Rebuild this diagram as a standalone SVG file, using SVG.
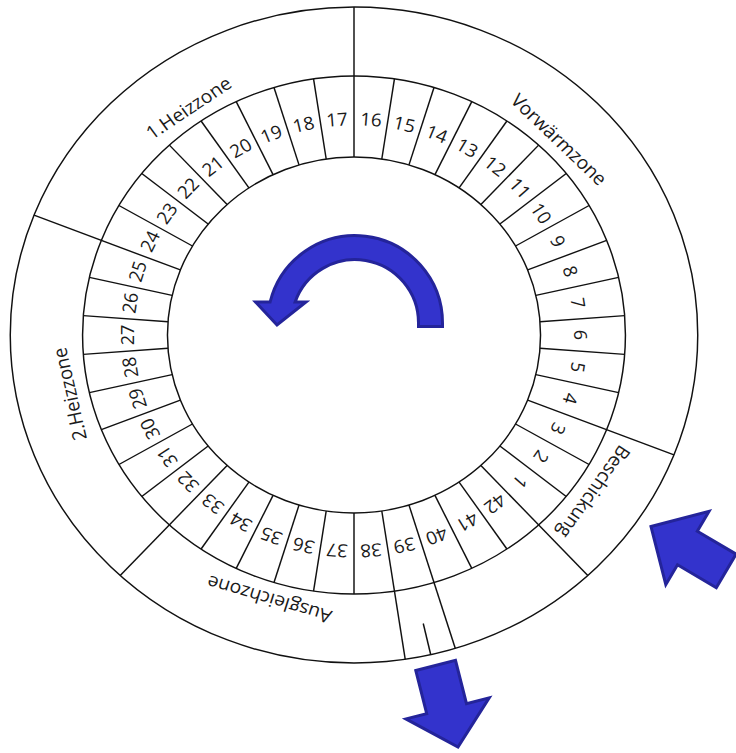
<svg xmlns="http://www.w3.org/2000/svg" xmlns:xlink="http://www.w3.org/1999/xlink" width="736" height="753" viewBox="0 0 736 753">
<style>
.ln{stroke:#111;stroke-width:1.4;fill:none}
.num{font-family:"Open Sans","Liberation Sans",sans-serif;font-size:18px;fill:#1a1a1a;text-anchor:middle}
.zl{font-family:"Open Sans","Liberation Sans",sans-serif;font-size:18.5px;fill:#1a1a1a;text-anchor:middle}
.arr{fill:#3333cc;stroke:#24249a;stroke-width:3;stroke-linejoin:miter;stroke-miterlimit:6}
</style>
<defs>
<line id="sp" x1="0" y1="-178" x2="0" y2="-259"/>
<line id="lp" x1="0" y1="-178" x2="0" y2="-328"/>
</defs>
<rect width="736" height="753" fill="#fff"/>
<g transform="translate(354,335) scale(1.048,1)">
<g id="furnace" class="ln">
<circle r="328"/>
<circle r="259"/>
<circle r="178"/>
</g>
<g id="cell-dividers" class="ln">
<use xlink:href="#lp" transform="rotate(0)"/>
<use xlink:href="#sp" transform="rotate(8.5714)"/>
<use xlink:href="#sp" transform="rotate(17.1429)"/>
<use xlink:href="#sp" transform="rotate(25.7143)"/>
<use xlink:href="#sp" transform="rotate(34.2857)"/>
<use xlink:href="#sp" transform="rotate(42.8571)"/>
<use xlink:href="#sp" transform="rotate(51.4286)"/>
<use xlink:href="#sp" transform="rotate(60)"/>
<use xlink:href="#sp" transform="rotate(68.5714)"/>
<use xlink:href="#sp" transform="rotate(77.1429)"/>
<use xlink:href="#sp" transform="rotate(85.7143)"/>
<use xlink:href="#sp" transform="rotate(94.2857)"/>
<use xlink:href="#sp" transform="rotate(102.8571)"/>
<use xlink:href="#lp" transform="rotate(111.4286)"/>
<use xlink:href="#sp" transform="rotate(120)"/>
<use xlink:href="#sp" transform="rotate(128.5714)"/>
<use xlink:href="#lp" transform="rotate(137.1429)"/>
<use xlink:href="#sp" transform="rotate(145.7143)"/>
<use xlink:href="#sp" transform="rotate(154.2857)"/>
<use xlink:href="#lp" transform="rotate(162.8571)"/>
<use xlink:href="#lp" transform="rotate(171.4286)"/>
<use xlink:href="#sp" transform="rotate(180)"/>
<use xlink:href="#sp" transform="rotate(188.5714)"/>
<use xlink:href="#sp" transform="rotate(197.1429)"/>
<use xlink:href="#sp" transform="rotate(205.7143)"/>
<use xlink:href="#sp" transform="rotate(214.2857)"/>
<use xlink:href="#lp" transform="rotate(222.8571)"/>
<use xlink:href="#sp" transform="rotate(231.4286)"/>
<use xlink:href="#sp" transform="rotate(240)"/>
<use xlink:href="#sp" transform="rotate(248.5714)"/>
<use xlink:href="#sp" transform="rotate(257.1429)"/>
<use xlink:href="#sp" transform="rotate(265.7143)"/>
<use xlink:href="#sp" transform="rotate(274.2857)"/>
<use xlink:href="#sp" transform="rotate(282.8571)"/>
<use xlink:href="#lp" transform="rotate(291.4286)"/>
<use xlink:href="#sp" transform="rotate(300)"/>
<use xlink:href="#sp" transform="rotate(308.5714)"/>
<use xlink:href="#sp" transform="rotate(317.1429)"/>
<use xlink:href="#sp" transform="rotate(325.7143)"/>
<use xlink:href="#sp" transform="rotate(334.2857)"/>
<use xlink:href="#sp" transform="rotate(342.8571)"/>
<use xlink:href="#sp" transform="rotate(351.4286)"/>
<line x1="0" y1="-296" x2="0" y2="-328" transform="rotate(167.1)"/>
</g>
<g id="cell-numbers" class="num">
<text id="c1" transform="rotate(132.857) translate(0,-216)" y="6.4">1</text>
<text id="c2" transform="rotate(124.286) translate(0,-216)" y="6.4">2</text>
<text id="c3" transform="rotate(115.714) translate(0,-216)" y="6.4">3</text>
<text id="c4" transform="rotate(107.143) translate(0,-216)" y="6.4">4</text>
<text id="c5" transform="rotate(98.571) translate(0,-216)" y="6.4">5</text>
<text id="c6" transform="rotate(90) translate(0,-216)" y="6.4">6</text>
<text id="c7" transform="rotate(81.429) translate(0,-216)" y="6.4">7</text>
<text id="c8" transform="rotate(72.857) translate(0,-216)" y="6.4">8</text>
<text id="c9" transform="rotate(64.286) translate(0,-216)" y="6.4">9</text>
<text id="c10" transform="rotate(55.714) translate(0,-216)" y="6.4">10</text>
<text id="c11" transform="rotate(47.143) translate(0,-216)" y="6.4">11</text>
<text id="c12" transform="rotate(38.571) translate(0,-216)" y="6.4">12</text>
<text id="c13" transform="rotate(30) translate(0,-216)" y="6.4">13</text>
<text id="c14" transform="rotate(21.429) translate(0,-216)" y="6.4">14</text>
<text id="c15" transform="rotate(12.857) translate(0,-216)" y="6.4">15</text>
<text id="c16" transform="rotate(4.286) translate(0,-216)" y="6.4">16</text>
<text id="c17" transform="rotate(-4.286) translate(0,-216)" y="6.4">17</text>
<text id="c18" transform="rotate(-12.857) translate(0,-216)" y="6.4">18</text>
<text id="c19" transform="rotate(-21.429) translate(0,-216)" y="6.4">19</text>
<text id="c20" transform="rotate(-30) translate(0,-216)" y="6.4">20</text>
<text id="c21" transform="rotate(-38.571) translate(0,-216)" y="6.4">21</text>
<text id="c22" transform="rotate(-47.143) translate(0,-216)" y="6.4">22</text>
<text id="c23" transform="rotate(-55.714) translate(0,-216)" y="6.4">23</text>
<text id="c24" transform="rotate(-64.286) translate(0,-216)" y="6.4">24</text>
<text id="c25" transform="rotate(-72.857) translate(0,-216)" y="6.4">25</text>
<text id="c26" transform="rotate(-81.429) translate(0,-216)" y="6.4">26</text>
<text id="c27" transform="rotate(-90) translate(0,-216)" y="6.4">27</text>
<text id="c28" transform="rotate(-98.571) translate(0,-216)" y="6.4">28</text>
<text id="c29" transform="rotate(-107.143) translate(0,-216)" y="6.4">29</text>
<text id="c30" transform="rotate(-115.714) translate(0,-216)" y="6.4">30</text>
<text id="c31" transform="rotate(-124.286) translate(0,-216)" y="6.4">31</text>
<text id="c32" transform="rotate(-132.857) translate(0,-216)" y="6.4">32</text>
<text id="c33" transform="rotate(-141.429) translate(0,-216)" y="6.4">33</text>
<text id="c34" transform="rotate(-150) translate(0,-216)" y="6.4">34</text>
<text id="c35" transform="rotate(-158.571) translate(0,-216)" y="6.4">35</text>
<text id="c36" transform="rotate(-167.143) translate(0,-216)" y="6.4">36</text>
<text id="c37" transform="rotate(-175.714) translate(0,-216)" y="6.4">37</text>
<text id="c38" transform="rotate(-184.286) translate(0,-216)" y="6.4">38</text>
<text id="c39" transform="rotate(-192.857) translate(0,-216)" y="6.4">39</text>
<text id="c40" transform="rotate(-201.429) translate(0,-216)" y="6.4">40</text>
<text id="c41" transform="rotate(-210) translate(0,-216)" y="6.4">41</text>
<text id="c42" transform="rotate(-218.571) translate(0,-216)" y="6.4">42</text>
</g>
<g id="zone-labels" class="zl">
<text id="z-heiz1" transform="rotate(-34.8) translate(0,-270)">1.Heizzone</text>
<text id="z-vorw" transform="rotate(45) translate(0,-270)">Vorwärmzone</text>
<text id="z-heiz2" transform="rotate(-102.3) translate(0,-271)">2.Heizzone</text>
<text id="z-ausg" transform="rotate(197) translate(0,-270)">Ausgleichzone</text>
<text id="z-besch" transform="rotate(124.4) translate(0,-271)">Beschickung</text>
</g>
</g>
<g id="connectors">
<path id="rotation-arrow" class="arr" d="M442.5,326.5 L442.5,323 A87.5,87.5 0 0 0 270.1,302 L255.5,302 L277,325 L306,302 L295.1,302 A63.5,63.5 0 0 1 418.5,323 L418.5,326.5 Z"/>
<path id="outlet-arrow" class="arr" d="M415.8,670.5 L455.5,660.4 L466.5,703.6 L489.2,697.8 L458,747 L405.9,718.9 L426.7,713.6 Z"/>
<path id="inlet-arrow" class="arr" d="M651,526.5 L709,511.4 L697.3,531.2 L736.1,554.1 L716.3,587.7 L677.5,564.8 L665.8,584.7 Z"/>
</g>
</svg>
